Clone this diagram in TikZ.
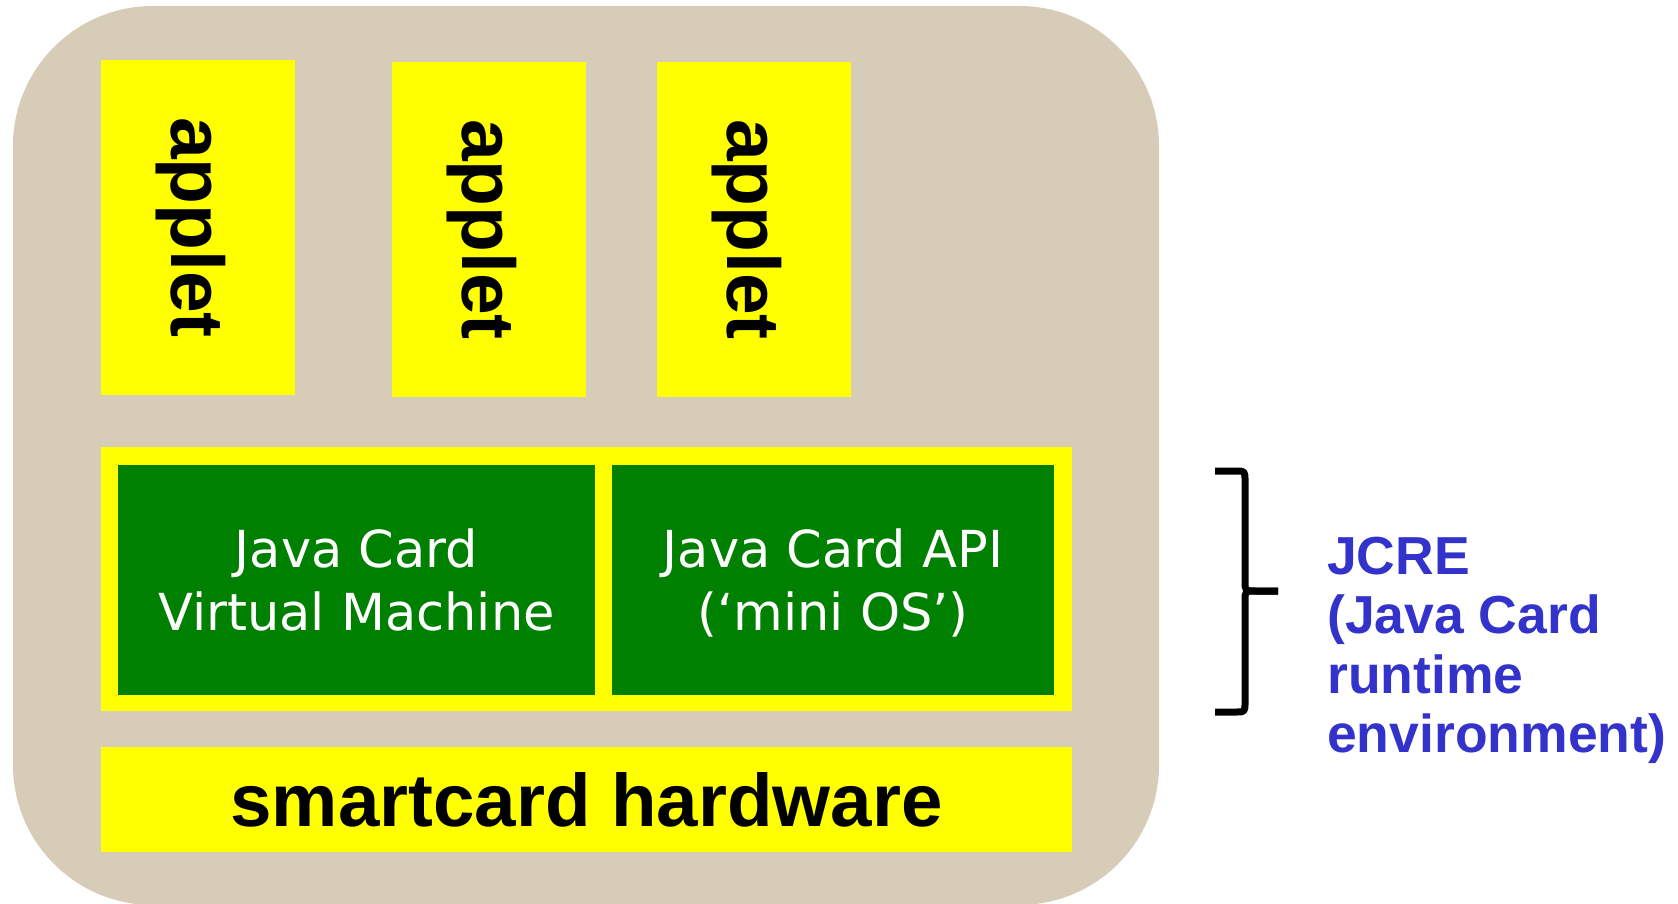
\documentclass[tikz,border=0pt]{standalone}
\usepackage{fontspec}
\setmainfont{Liberation Sans}
\newfontfamily\panelfont{DejaVu Sans}
\usetikzlibrary{positioning}
\definecolor{linen}{RGB}{214,204,184}
\definecolor{cardyellow}{RGB}{255,255,0}
\definecolor{cardgreen}{RGB}{0,128,0}
\definecolor{jcreblue}{RGB}{51,51,204}

\begin{document}
\begin{tikzpicture}[x=1pt, y=-1pt,
    box/.style={fill=cardyellow, inner sep=0pt, outer sep=0pt},
    applet/.style={box, minimum width=194pt, minimum height=335pt, anchor=north west},
    appletlabel/.style={rotate=-90, font=\bfseries\fontsize{75}{80}\selectfont},
    layer/.style={fill=cardgreen, text=white, inner sep=0pt, outer sep=0pt, minimum height=230pt, text depth=0pt, align=center, font=\panelfont\fontsize{51}{63}\selectfont},
    brace/.style={line width=7pt, line join=round},
    jcre/.style={text=jcreblue, align=left, inner sep=0pt, font=\bfseries\fontsize{53.5}{59.3}\selectfont}]
    \useasboundingbox (0,0) rectangle (1678,904);
    \fill[linen, rounded corners=140pt] (13,6) rectangle (1159,905);

    \node[applet] (app1) at (101,60) {};
    \node[applet] (app2) at (392,62) {};
    \node[applet] (app3) at (657,62) {};
    \foreach \a in {app1,app2,app3}
        \node[appletlabel] at ([xshift=-7pt]\a.center) {applet};

    \node[box, minimum width=971pt, minimum height=264pt, anchor=north west] (frame) at (101,447) {};
    \node[layer, minimum width=477pt, anchor=north west] (jcvm) at (118,465) {Java Card\\Virtual Machine};
    \node[layer, minimum width=442pt, right=17pt of jcvm] (api) {Java Card API\\(‘mini OS’)};
    \node[box, minimum width=971pt, minimum height=105pt, below=36pt of frame, font=\bfseries\fontsize{74.5}{80}\selectfont] (hw) {smartcard hardware};

    \coordinate (bt) at (1215,471);
    \coordinate (bm) at (1278,591);
    \coordinate (bb) at (1215,712);
    \draw[brace] (bt) -- (1236,471) .. controls (1245,471) .. (1245,481) -- (1245,581) .. controls (1245,591) .. (1256,591) -- (bm);
    \draw[brace] (bm) -- (1256,591) .. controls (1245,591) .. (1245,601) -- (1245,702) .. controls (1245,712) .. (1236,712) -- (bb);
    \node[jcre, anchor=north west] (jcre) at (1327,537) {JCRE\\(Java Card\\runtime\\environment)};
\end{tikzpicture}
\end{document}
